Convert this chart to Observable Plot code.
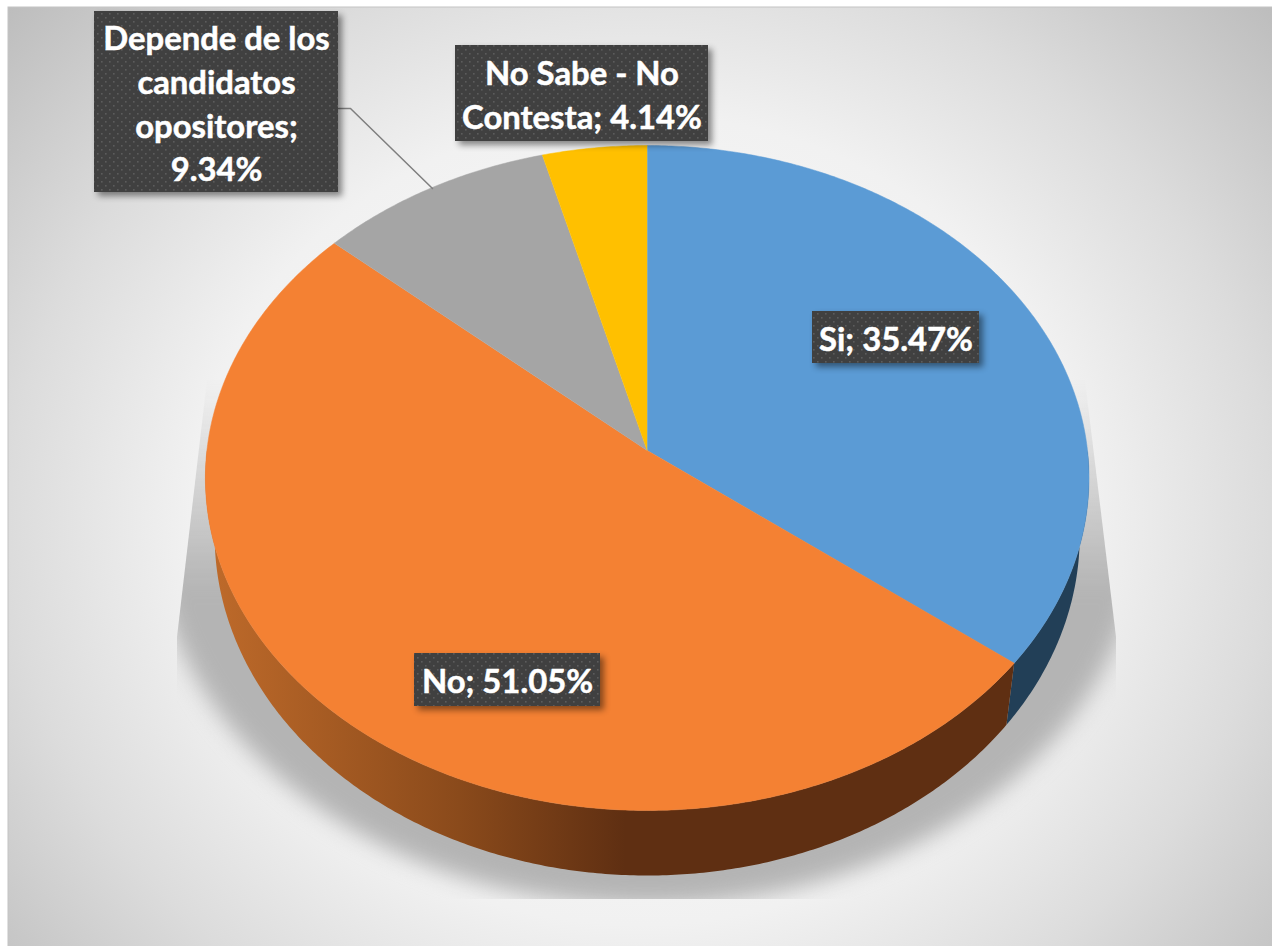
<!DOCTYPE html>
<html><head><meta charset="utf-8">
<script src="https://cdn.jsdelivr.net/npm/d3@7"></script>
<script src="https://cdn.jsdelivr.net/npm/@observablehq/plot@0.6"></script>
<style>html,body{margin:0;background:#fff}svg{display:block;max-width:none!important}</style>
</head><body><div id="chart"></div>
<script>
// ---- data
const categories = ["Si", "No", "Depende de los candidatos opositores", "No Sabe - No Contesta"];
const shares = [35.47, 51.05, 9.34, 4.14];
const labelTexts = ["Si; 35.47%", "No; 51.05%", "Depende de los\ncandidatos\nopositores;\n9.34%", "No Sabe - No\nContesta; 4.14%"];
const topColors = ["#5B9BD5", "#F48133", "#A5A5A5", "#FFC000"];

// ---- layout
const W = 1272, H = 946, CX = 646.7, CY = 450, A = 440.3, B = 330.2, K = 0.0827;
const ux = px => (px - CX) / A, uy = py => (CY - py) / B;
const boxes = [
  {x1: 812, x2: 979, y1: 311, y2: 363, cy: 336},
  {x1: 414, x2: 600, y1: 653, y2: 706, cy: 678},
  {x1: 94, x2: 338, y1: 11, y2: 192, cy: 101},
  {x1: 455, x2: 708, y1: 45, y2: 141, cy: 92}
];
const rimTop = {sx: 1, sy: 1, dy: 0}, rimBottom = {sx: 0.979, sy: 1.0227, dy: -0.1723};
function rimPoint(deg, rim) {
  const t = deg * Math.PI / 180, X = Math.sin(t), Y = Math.cos(t), w = 1 + K * Y;
  return {x: rim.sx * X / w, y: rim.dy + rim.sy * Y / w};
}
function arc(a, b, rim) {
  const n = Math.max(2, Math.ceil(Math.abs(b - a) * 2)), out = [];
  for (let i = 0; i <= n; ++i) out.push(rimPoint(a + (b - a) * i / n, rim));
  return out;
}
const angles = Array.from(d3.cumsum([0, ...shares]), v => v * 3.6);
const faces = categories.flatMap((name, i) =>
  [{x: 0, y: 0}, ...arc(angles[i], angles[i + 1], rimTop)].map(p => ({...p, name})));
const wall = (name, a, b) => [...arc(a, b, rimTop), ...arc(b, a, rimBottom)].map(p => ({...p, name}));
const walls = [...wall("a", 90, angles[1]), ...wall("b", angles[1], 270)];
const shadowPts = d3.range(0, 361, 3).map(d => {
  const t = d * Math.PI / 180;
  return {x: ux(CX + 495 * Math.sin(t)), y: uy(520 + 385 * Math.cos(t))};
});

const defs = () => {
  const g = document.createElementNS("http://www.w3.org/2000/svg", "g");
  g.innerHTML = `<defs>
    <radialGradient id="bg" gradientUnits="userSpaceOnUse" cx="640" cy="520" r="1" gradientTransform="translate(640 520) scale(1000 900) translate(-640 -520)">
      <stop offset="0" stop-color="#ffffff"/><stop offset="0.45" stop-color="#f1f1f1"/><stop offset="0.63" stop-color="#dcdcdc"/><stop offset="0.85" stop-color="#bdbdbd"/>
    </radialGradient>
    <linearGradient id="wallOrange" gradientUnits="userSpaceOnUse" x1="210" x2="625" y1="0" y2="0">
      <stop offset="0" stop-color="#BE6A2A"/><stop offset="0.6" stop-color="#8A4A1B"/><stop offset="1" stop-color="#5F2F12"/>
    </linearGradient>
    <linearGradient id="shadowFill" gradientUnits="userSpaceOnUse" x1="0" x2="0" y1="385" y2="590">
      <stop offset="0" stop-color="#b4b4b4" stop-opacity="0"/><stop offset="1" stop-color="#b4b4b4" stop-opacity="1"/>
    </linearGradient>
    <pattern id="dots" patternUnits="userSpaceOnUse" width="8" height="8">
      <rect width="8" height="8" fill="#404040"/>
      <rect x="1" y="1" width="1.6" height="1.6" fill="#5c5c5c"/><rect x="5" y="5" width="1.6" height="1.6" fill="#5c5c5c"/>
    </pattern>
    <clipPath id="shadowClip"><polygon points="207,380 177,637 177,899 1116,899 1116,637 1085,380"/></clipPath>
  </defs>`;
  return g;
};
const clipTo = id => (i, s, v, d, c, next) => {
  const g = next(i, s, v, d, c);
  const wrap = document.createElementNS("http://www.w3.org/2000/svg", "g");
  wrap.setAttribute("clip-path", `url(#${id})`);
  wrap.appendChild(g);
  return wrap;
};

const plot = Plot.plot({
  width: W, height: H, margin: 0,
  x: {domain: [-1, 1], range: [CX - A, CX + A], axis: null},
  y: {domain: [-1, 1], range: [CY + B, CY - B], axis: null},
  color: {domain: [...categories, "a", "b"], range: [...topColors, "#223F57", "url(#wallOrange)"]},
  marks: [
    defs,
    Plot.rect([0], {x1: ux(8), x2: ux(W + 5), y1: uy(7), y2: uy(H + 5), fill: "url(#bg)", stroke: "#c4c4c4", strokeWidth: 1}),
    Plot.line(shadowPts, {x: "x", y: "y", fill: "url(#shadowFill)", stroke: "none", imageFilter: "blur(11px)", render: clipTo("shadowClip")}),
    Plot.line(walls, {x: "x", y: "y", fill: "name", stroke: "none"}),
    Plot.line(faces, {x: "x", y: "y", fill: "name", stroke: "name", strokeWidth: 0.5}),
    Plot.line([{x: ux(338), y: uy(108)}, {x: ux(350), y: uy(108)}, {x: ux(432), y: uy(188)}], {x: "x", y: "y", stroke: "#7f7f7f", strokeWidth: 1.5}),
    Plot.rect(boxes, {x1: d => ux(d.x1), x2: d => ux(d.x2), y1: d => uy(d.y1), y2: d => uy(d.y2), fill: "url(#dots)", imageFilter: "drop-shadow(4px 4px 3px rgba(0,0,0,.45))"}),
    Plot.text(labelTexts, {
      x: (d, i) => ux((boxes[i].x1 + boxes[i].x2) / 2),
      y: (d, i) => uy(boxes[i].cy),
      text: d => d, fill: "#fff", stroke: "#fff", strokeWidth: 0.5, fontFamily: "Lato", fontWeight: 700, fontSize: 32.8, lineHeight: 1.34, lineAnchor: "middle"
    })
  ]
});
document.getElementById("chart").appendChild(plot);
</script></body></html>
